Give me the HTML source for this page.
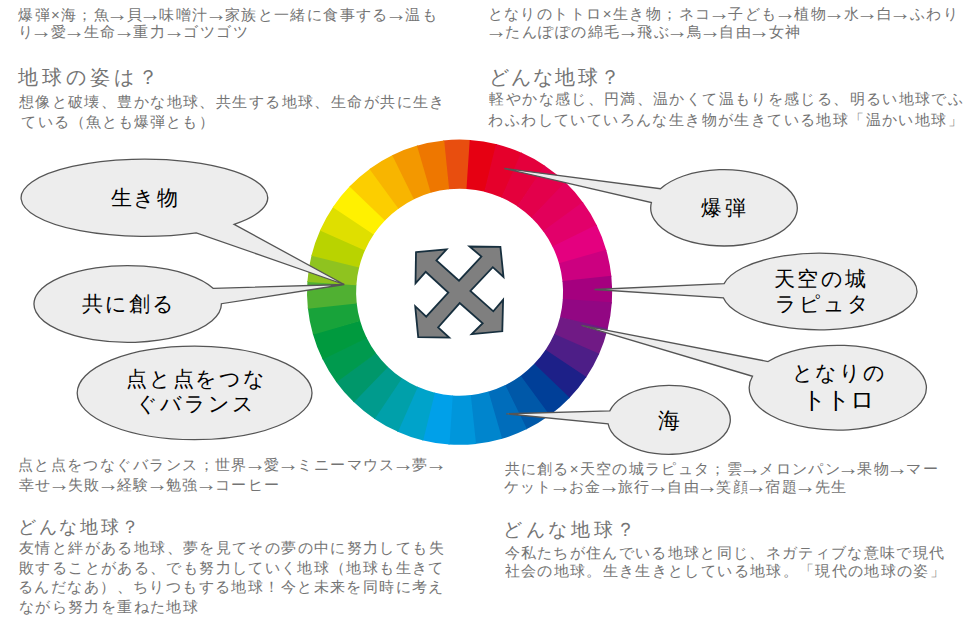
<!DOCTYPE html>
<html lang="ja"><head><meta charset="utf-8"><title>地球の姿</title>
<style>
html,body{margin:0;padding:0;background:#fff}
body{width:975px;height:619px;overflow:hidden;position:relative;font-family:"Liberation Sans",sans-serif}
.t,.k{position:absolute;white-space:nowrap;line-height:1}
.t{color:#747474}
.k{color:#000}
b{font-weight:normal;display:inline-block;transform:scale(1.45,1.3);transform-origin:50% 70%}
</style></head><body>
<svg width="975" height="619" viewBox="0 0 975 619" style="position:absolute;left:0;top:0">
<g shape-rendering="geometricPrecision"><path fill="#E84E0F" d="M443.12 140.49A152.6 152.6 0 0 1 470.78 140.01L467.18 188.98A103.5 103.5 0 0 0 448.42 189.31Z"/><path fill="#E60012" d="M469.71 139.94A152.6 152.6 0 0 1 497.03 144.26L484.99 191.86A103.5 103.5 0 0 0 466.46 188.93Z"/><path fill="#E5002B" d="M496 144A152.6 152.6 0 0 1 522.15 153.01L502.03 197.8A103.5 103.5 0 0 0 484.29 191.69Z"/><path fill="#E4003C" d="M521.18 152.58A152.6 152.6 0 0 1 545.37 165.99L517.78 206.6A103.5 103.5 0 0 0 501.37 197.5Z"/><path fill="#E3004B" d="M544.49 165.39A152.6 152.6 0 0 1 565.99 182.8L531.76 218A103.5 103.5 0 0 0 517.18 206.19Z"/><path fill="#E2005A" d="M565.22 182.06A152.6 152.6 0 0 1 583.37 202.94L543.55 231.66A103.5 103.5 0 0 0 531.24 217.5Z"/><path fill="#E2006A" d="M582.74 202.07A152.6 152.6 0 0 1 596.99 225.78L552.78 247.15A103.5 103.5 0 0 0 543.12 231.07Z"/><path fill="#E4007F" d="M596.52 224.83A152.6 152.6 0 0 1 606.43 250.65L559.19 264.02A103.5 103.5 0 0 0 552.47 246.5Z"/><path fill="#CC0080" d="M606.14 249.63A152.6 152.6 0 0 1 611.42 276.78L562.57 281.74A103.5 103.5 0 0 0 558.99 263.32Z"/><path fill="#A5007F" d="M611.31 275.72A152.6 152.6 0 0 1 611.79 303.38L562.82 299.78A103.5 103.5 0 0 0 562.49 281.02Z"/><path fill="#920783" d="M611.86 302.31A152.6 152.6 0 0 1 607.54 329.63L559.94 317.59A103.5 103.5 0 0 0 562.87 299.06Z"/><path fill="#701A85" d="M607.8 328.6A152.6 152.6 0 0 1 598.79 354.75L554 334.63A103.5 103.5 0 0 0 560.11 316.89Z"/><path fill="#4D1E87" d="M599.22 353.78A152.6 152.6 0 0 1 585.81 377.97L545.2 350.38A103.5 103.5 0 0 0 554.3 333.97Z"/><path fill="#1D2088" d="M586.41 377.09A152.6 152.6 0 0 1 569 398.59L533.8 364.36A103.5 103.5 0 0 0 545.61 349.78Z"/><path fill="#003F98" d="M569.74 397.82A152.6 152.6 0 0 1 548.86 415.97L520.14 376.15A103.5 103.5 0 0 0 534.3 363.84Z"/><path fill="#0058A8" d="M549.73 415.34A152.6 152.6 0 0 1 526.02 429.59L504.65 385.38A103.5 103.5 0 0 0 520.73 375.72Z"/><path fill="#006DBB" d="M526.97 429.12A152.6 152.6 0 0 1 501.15 439.03L487.78 391.79A103.5 103.5 0 0 0 505.3 385.07Z"/><path fill="#0085CD" d="M502.17 438.74A152.6 152.6 0 0 1 475.02 444.02L470.06 395.17A103.5 103.5 0 0 0 488.48 391.59Z"/><path fill="#0096DB" d="M476.08 443.91A152.6 152.6 0 0 1 448.42 444.39L452.02 395.42A103.5 103.5 0 0 0 470.78 395.09Z"/><path fill="#00A0E9" d="M449.49 444.46A152.6 152.6 0 0 1 422.17 440.14L434.21 392.54A103.5 103.5 0 0 0 452.74 395.47Z"/><path fill="#00A3CA" d="M423.2 440.4A152.6 152.6 0 0 1 397.05 431.39L417.17 386.6A103.5 103.5 0 0 0 434.91 392.71Z"/><path fill="#00A0AA" d="M398.02 431.82A152.6 152.6 0 0 1 373.83 418.41L401.42 377.8A103.5 103.5 0 0 0 417.83 386.9Z"/><path fill="#009B8D" d="M374.71 419.01A152.6 152.6 0 0 1 353.21 401.6L387.44 366.4A103.5 103.5 0 0 0 402.02 378.21Z"/><path fill="#00976A" d="M353.98 402.34A152.6 152.6 0 0 1 335.83 381.46L375.65 352.74A103.5 103.5 0 0 0 387.96 366.9Z"/><path fill="#009A4E" d="M336.46 382.33A152.6 152.6 0 0 1 322.21 358.62L366.42 337.25A103.5 103.5 0 0 0 376.08 353.33Z"/><path fill="#009A3E" d="M322.68 359.57A152.6 152.6 0 0 1 312.77 333.75L360.01 320.38A103.5 103.5 0 0 0 366.73 337.9Z"/><path fill="#18A33A" d="M313.06 334.77A152.6 152.6 0 0 1 307.78 307.62L356.63 302.66A103.5 103.5 0 0 0 360.21 321.08Z"/><path fill="#50B032" d="M307.89 308.68A152.6 152.6 0 0 1 307.41 281.02L356.38 284.62A103.5 103.5 0 0 0 356.71 303.38Z"/><path fill="#8FC31F" d="M307.34 282.09A152.6 152.6 0 0 1 311.66 254.77L359.26 266.81A103.5 103.5 0 0 0 356.33 285.34Z"/><path fill="#B9D300" d="M311.4 255.8A152.6 152.6 0 0 1 320.41 229.65L365.2 249.77A103.5 103.5 0 0 0 359.09 267.51Z"/><path fill="#DFDF00" d="M319.98 230.62A152.6 152.6 0 0 1 333.39 206.43L374 234.02A103.5 103.5 0 0 0 364.9 250.43Z"/><path fill="#FFF100" d="M332.79 207.31A152.6 152.6 0 0 1 350.2 185.81L385.4 220.04A103.5 103.5 0 0 0 373.59 234.62Z"/><path fill="#FCCE00" d="M349.46 186.58A152.6 152.6 0 0 1 370.34 168.43L399.06 208.25A103.5 103.5 0 0 0 384.9 220.56Z"/><path fill="#F8B500" d="M369.47 169.06A152.6 152.6 0 0 1 393.18 154.81L414.55 199.02A103.5 103.5 0 0 0 398.47 208.68Z"/><path fill="#F39800" d="M392.23 155.28A152.6 152.6 0 0 1 418.05 145.37L431.42 192.61A103.5 103.5 0 0 0 413.9 199.33Z"/><path fill="#EE7700" d="M417.03 145.66A152.6 152.6 0 0 1 444.18 140.38L449.14 189.23A103.5 103.5 0 0 0 430.72 192.81Z"/></g>
<g fill="#EDEDED" stroke="#555" stroke-width="1.3" stroke-linejoin="miter"><path d="M234.1 224.28A123.3 38.6 0 1 0 196.31 232.81L344.2 284.5Z"/><path d="M213.37 288.45A93.7 38.4 0 1 0 221.4 303.7L344.2 284.5Z"/><ellipse cx="194.6" cy="392.9" rx="117.4" ry="46.8"/><path d="M660.51 188.71A73.3 38.2 0 1 1 651.38 202.59L504.4 168.5Z"/><path d="M724.11 283.57A97.5 38.3 0 1 1 723.33 297.82L594.5 289.5Z"/><path d="M768.05 361.56A88.6 42.4 0 1 1 752.49 376.26L581.5 325.4Z"/><path d="M609.78 410.89A61.3 34.5 0 1 1 608.11 423.77L506.2 413.8Z"/></g>
<polygon fill="#7F7F7F" stroke="#172F3E" stroke-width="1.8" stroke-linejoin="miter" points="416.0,252.2 446.6,249.3 436.4,260.4 459,280.7 481.4,256.5 469.5,246.5 500.4,246.8 503.5,277 492.8,267.2 470.4,290.9 493.3,311.3 503.1,299.8 502.3,331.3 471.7,334.2 482.7,323.2 459.7,303.1 438.1,327.4 449.2,337.6 418.2,337.1 415.2,306.2 426.2,316.7 448.3,292.6 425.7,271.9 415.5,283.3"/>
</svg>
<div class="t" id="t0" style="left:18.2px;top:7.13px;font-size:15.0px;letter-spacing:1.38px">爆弾×海；魚<b>→</b>貝<b>→</b>味噌汁<b>→</b>家族と一緒に食事する<b>→</b>温も</div>
<div class="t" id="t1" style="left:17.5px;top:24.42px;font-size:15.0px;letter-spacing:1.55px">り<b>→</b>愛<b>→</b>生命<b>→</b>重力<b>→</b>ゴツゴツ</div>
<div class="t" id="t2" style="left:18.4px;top:67.18px;font-size:20.4px;letter-spacing:3.96px">地球の姿は？</div>
<div class="t" id="t3" style="left:18.7px;top:93.83px;font-size:15.0px;letter-spacing:1.43px">想像と破壊、豊かな地球、共生する地球、生命が共に生き</div>
<div class="t" id="t4" style="left:21.4px;top:113.72px;font-size:15.0px;letter-spacing:1.11px">ている（魚とも爆弾とも）</div>
<div class="t" id="t5" style="left:487.5px;top:6.13px;font-size:15.0px;letter-spacing:1.47px">となりのトトロ×生き物；ネコ<b>→</b>子ども<b>→</b>植物<b>→</b>水<b>→</b>白<b>→</b>ふわり</div>
<div class="t" id="t6" style="left:488.8px;top:24.42px;font-size:15.0px;letter-spacing:1.47px"><b>→</b>たんぽぽの綿毛<b>→</b>飛ぶ<b>→</b>鳥<b>→</b>自由<b>→</b>女神</div>
<div class="t" id="t7" style="left:488.9px;top:66.89px;font-size:20.2px;letter-spacing:2.2px">どんな地球？</div>
<div class="t" id="t8" style="left:489.4px;top:91.42px;font-size:15.0px;letter-spacing:1.37px">軽やかな感じ、円満、温かくて温もりを感じる、明るい地球でふ</div>
<div class="t" id="t9" style="left:488.4px;top:111.73px;font-size:15.0px;letter-spacing:1.4px">わふわしていていろんな生き物が生きている地球「温かい地球」</div>
<div class="t" id="t10" style="left:17.7px;top:456.92px;font-size:15.0px;letter-spacing:1.44px">点と点をつなぐバランス；世界<b>→</b>愛<b>→</b>ミニーマウス<b>→</b>夢<b>→</b></div>
<div class="t" id="t11" style="left:19.1px;top:476.53px;font-size:15.0px;letter-spacing:1.33px">幸せ<b>→</b>失敗<b>→</b>経験<b>→</b>勉強<b>→</b>コーヒー</div>
<div class="t" id="t12" style="left:18.3px;top:517.57px;font-size:18.4px;letter-spacing:2.6px">どんな地球？</div>
<div class="t" id="t13" style="left:19.1px;top:540.13px;font-size:15.0px;letter-spacing:1.38px">友情と絆がある地球、夢を見てその夢の中に努力しても失</div>
<div class="t" id="t14" style="left:19.1px;top:560.33px;font-size:15.0px;letter-spacing:1.37px">敗することがある、でも努力していく地球（地球も生きて</div>
<div class="t" id="t15" style="left:18px;top:578.92px;font-size:15.0px;letter-spacing:1.42px">るんだなあ）、ちりつもする地球！今と未来を同時に考え</div>
<div class="t" id="t16" style="left:19px;top:598.52px;font-size:15.0px;letter-spacing:1.36px">ながら努力を重ねた地球</div>
<div class="t" id="t17" style="left:504.5px;top:460.53px;font-size:15.0px;letter-spacing:1.32px">共に創る×天空の城ラピュタ；雲<b>→</b>メロンパン<b>→</b>果物<b>→</b>マー</div>
<div class="t" id="t18" style="left:503.5px;top:479.12px;font-size:15.0px;letter-spacing:1.36px">ケット<b>→</b>お金<b>→</b>旅行<b>→</b>自由<b>→</b>笑顔<b>→</b>宿題<b>→</b>先生</div>
<div class="t" id="t19" style="left:503.3px;top:520.65px;font-size:18.8px;letter-spacing:3.56px">どんな地球？</div>
<div class="t" id="t20" style="left:504.5px;top:544.52px;font-size:15.0px;letter-spacing:1.33px">今私たちが住んでいる地球と同じ、ネガティブな意味で現代</div>
<div class="t" id="t21" style="left:504.5px;top:563.02px;font-size:15.0px;letter-spacing:1.36px">社会の地球。生き生きとしている地球。「現代の地球の姿」</div>
<div class="k" id="k0" style="left:110.7px;top:187.64px;font-size:21.3px;letter-spacing:1.8px">生き物</div>
<div class="k" id="k1" style="left:82.2px;top:294.24px;font-size:21.3px;letter-spacing:2.07px">共に創る</div>
<div class="k" id="k2" style="left:126.3px;top:369.34px;font-size:21.3px;letter-spacing:1.68px">点と点をつな</div>
<div class="k" id="k3" style="left:135.6px;top:394.24px;font-size:21.3px;letter-spacing:2px">ぐバランス</div>
<div class="k" id="k4" style="left:700.7px;top:198.34px;font-size:21.3px;letter-spacing:3.4px">爆弾</div>
<div class="k" id="k5" style="left:774.2px;top:268.84px;font-size:21.3px;letter-spacing:2.27px">天空の城</div>
<div class="k" id="k6" style="left:775.4px;top:294.14px;font-size:21.3px;letter-spacing:1.73px">ラピュタ</div>
<div class="k" id="k7" style="left:791.7px;top:363.04px;font-size:21.3px;letter-spacing:1.73px">となりの</div>
<div class="k" id="k8" style="left:801.5px;top:388.74px;font-size:23.5px;letter-spacing:-1px">トトロ</div>
<div class="k" id="k9" style="left:657.7px;top:409.92px;font-size:21.8px;letter-spacing:4.8px">海</div>
<script>(function(){var W={"t0":[419.72],"t1":[231.8],"t2":[143.77],"t3":[427.19],"t4":[193.33],"t5":[471.53],"t6":[313.06],"t7":[133.2],"t8":[474.73],"t9":[475.61],"t10":[427.53],"t11":[261.39],"t12":[123.61],"t13":[425.89],"t14":[425.63],"t15":[426.92],"t16":[179.97],"t17":[434.44],"t18":[343.75],"t19":[135.38],"t20":[440.92],"t21":[441.73],"k0":[69.41],"k1":[94.28],"k2":[140.09],"k3":[120],"k4":[48.81],"k5":[94.09],"k6":[94.92],"k7":[94.92],"k8":[72],"k9":[26.81]};for(var k in W){var e=document.getElementById(k);if(!e)continue;var a=e.getBoundingClientRect().width,d=W[k][0]-a;if(Math.abs(d)>0.6){var n=e.textContent.length,l=parseFloat(e.style.letterSpacing)||0;e.style.letterSpacing=(l+d/n).toFixed(2)+'px';}}})();</script>
</body></html>
